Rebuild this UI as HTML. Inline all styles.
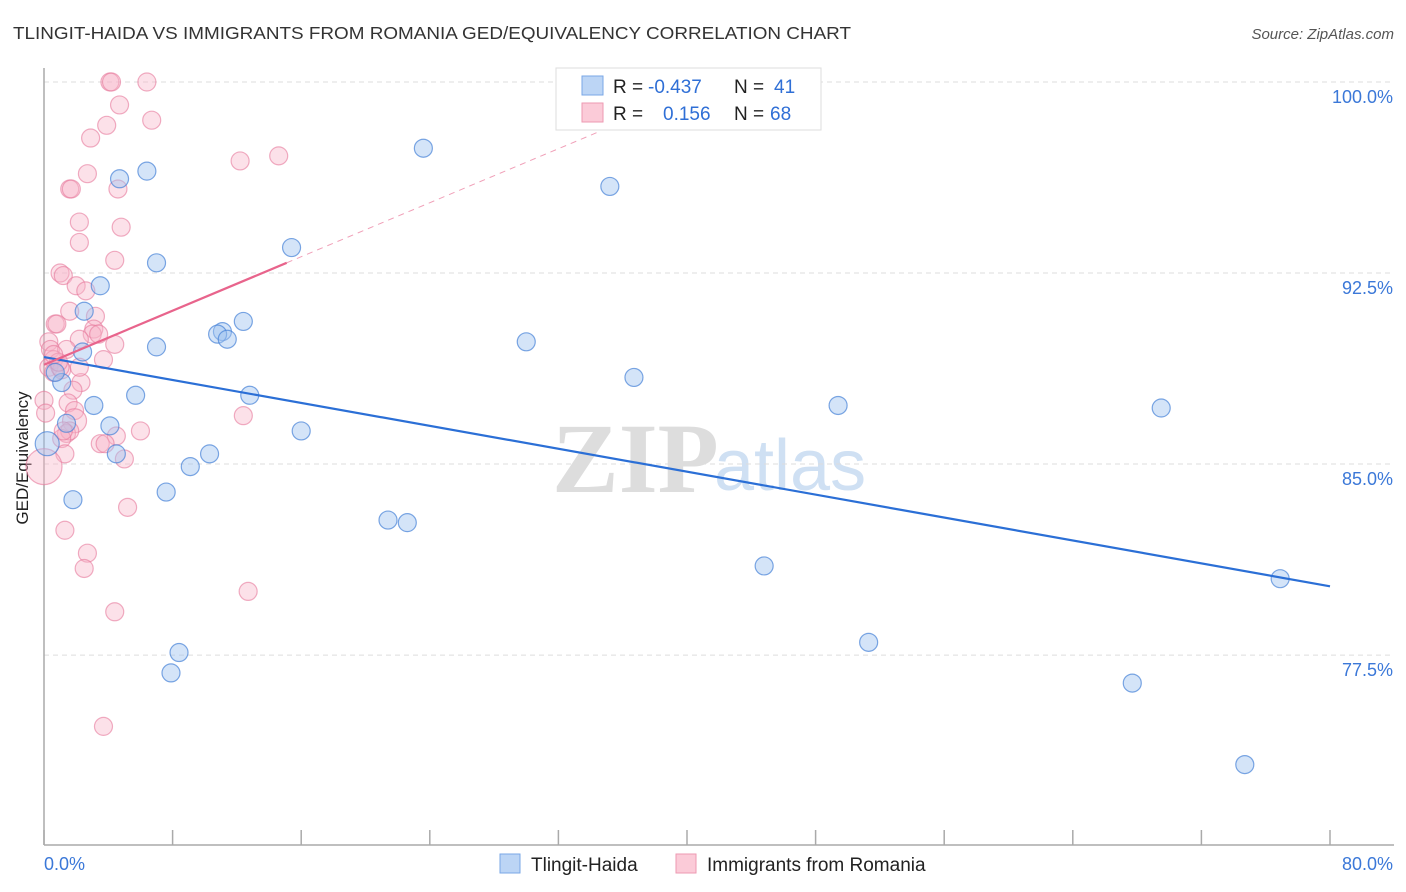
<!DOCTYPE html>
<html><head><meta charset="utf-8">
<style>
html,body{margin:0;padding:0;background:#fff;width:1406px;height:892px;overflow:hidden;font-family:"Liberation Sans",sans-serif}
svg{position:absolute;left:0;top:0}
</style></head>
<body>
<svg id="chart" width="1406" height="892">
<text x="13" y="39" font-size="17.5" fill="#333" textLength="838" lengthAdjust="spacingAndGlyphs">TLINGIT-HAIDA VS IMMIGRANTS FROM ROMANIA GED/EQUIVALENCY CORRELATION CHART</text>
<text x="1394" y="39" font-size="15" fill="#555" font-style="italic" text-anchor="end">Source: ZipAtlas.com</text>
<text x="28" y="458" font-size="17" fill="#222" text-anchor="middle" transform="rotate(-90 28 458)">GED/Equivalency</text>
<g><text x="552" y="492" font-size="100" fill="#ddd" font-family="Liberation Serif,serif" font-weight="bold">ZIP</text><text x="714" y="490" font-size="72" fill="#cfe0f3">atlas</text></g>
<g id="grid"></g><g id="axes"></g><g id="pts"></g><g id="lines"></g>
<g>
<rect x="556" y="68" width="265" height="62" fill="#fff" stroke="#ddd"/>
<rect x="582" y="76" width="21" height="19" fill="#bcd5f5" stroke="#7aa7e6"/>
<rect x="582" y="103" width="21" height="19" fill="#fbcbd8" stroke="#ee9ab2"/>
<text x="613" y="93" font-size="19" fill="#222">R = </text><text x="648" y="93" font-size="19" fill="#2f6fd6">-0.437</text>
<text x="734" y="93" font-size="19" fill="#222">N = </text><text x="774" y="93" font-size="19" fill="#2f6fd6">41</text>
<text x="613" y="120" font-size="19" fill="#222">R = </text><text x="663" y="120" font-size="19" fill="#2f6fd6">0.156</text>
<text x="734" y="120" font-size="19" fill="#222">N = </text><text x="770" y="120" font-size="19" fill="#2f6fd6">68</text>
</g>
<g>
<rect x="500" y="854" width="20" height="19" fill="#bcd5f5" stroke="#7aa7e6"/>
<text x="531" y="871" font-size="19" fill="#222">Tlingit-Haida</text>
<rect x="676" y="854" width="20" height="19" fill="#fbcbd8" stroke="#ee9ab2"/>
<text x="707" y="871" font-size="19" fill="#222">Immigrants from Romania</text>
</g>
</svg>
<script>
const yTicks=[100,92.5,85,77.5];
const yTickLabels=["100.0%","92.5%","85.0%","77.5%"];
const xTickLabels=["0.0%","80.0%"];
const blueX=[4.7,6.4,23.6,35.2,7.0,15.4,3.5,2.5,12.4,11.1,10.8,11.4,7.0,2.4,30.0,36.7,1.1,0.7,5.7,12.8,3.1,49.4,69.5,16.0,4.1,1.4,4.5,10.3,9.1,0.2,1.8,7.6,21.4,22.6,44.8,76.9,51.3,8.4,7.9,67.7,74.7];
const blueY=[96.2,96.5,97.4,95.9,92.9,93.5,92.0,91.0,90.6,90.2,90.1,89.9,89.6,89.4,89.8,88.4,88.2,88.6,87.7,87.7,87.3,87.3,87.2,86.3,86.5,86.6,85.4,85.4,84.9,85.8,83.6,83.9,82.8,82.7,81.0,80.5,78.0,77.6,76.8,76.4,73.2];
const pinkX=[4.1,4.2,6.4,4.7,2.9,3.9,6.7,12.2,14.6,2.7,1.6,1.7,4.6,4.8,2.2,2.2,4.4,1.0,1.2,2.0,2.6,3.2,1.6,0.7,0.8,3.1,3.0,2.2,4.4,0.3,0.4,1.4,3.7,0.6,0.3,0.6,1.1,2.3,1.8,0,1.5,1.9,0.1,1.9,1.4,1.6,6.0,4.5,1.1,3.5,1.3,5.0,0,12.4,5.2,1.3,2.7,2.5,4.4,12.7,3.7,1.0,2.2,3.4,1.2,3.8,0.9,0.6];
const pinkY=[100,100,100,99.1,97.8,98.3,98.5,96.9,97.1,96.4,95.8,95.8,95.8,94.3,94.5,93.7,93.0,92.5,92.4,92.0,91.8,90.8,91.0,90.5,90.5,90.3,90.1,89.9,89.7,89.8,89.5,89.5,89.1,89.1,88.8,88.6,88.7,88.2,87.9,87.5,87.4,87.1,87.0,86.7,86.2,86.3,86.3,86.1,86.0,85.8,85.4,85.2,84.9,86.9,83.3,82.4,81.5,80.9,79.2,80.0,74.7,88.8,88.8,90.1,86.3,85.8,89.0,89.3];
const bigPink=[52,43];
const trendX=[0,80];
const blueTrend=[89.2,80.2];
const pinkTrendStart=[0,88.9];const pinkSlope=0.265;const pinkSolidEnd=15.1;const pinkDashEnd=34.6;
const X=v=>44+v/80*1286, Y=v=>82+(100-v)*25.47;
const NS="http://www.w3.org/2000/svg";
function mk(t,a,p){const e=document.createElementNS(NS,t);for(const k in a)e.setAttribute(k,a[k]);p.appendChild(e);return e;}
const grid=document.getElementById('grid'),axes=document.getElementById('axes'),pts=document.getElementById('pts'),lines=document.getElementById('lines');
yTicks.forEach((t,i)=>{
 const g=mk('line',{x1:44,x2:1394,y1:Y(t),y2:Y(t),stroke:'#ddd','stroke-dasharray':'5,4'},grid);
 
 
 const l=mk('text',{x:1393,y:Y(t)+21,'font-size':18,fill:'#3b78d8','text-anchor':'end'},axes);l.textContent=yTickLabels[i];
 
 
});
mk('line',{x1:44,x2:44,y1:68,y2:845,stroke:'#aaa','stroke-width':1.5},axes);
mk('line',{x1:44,x2:1394,y1:845,y2:845,stroke:'#aaa','stroke-width':1.5},axes);
for(let i=0;i<=10;i++){const t=mk('line',{x1:X(i*8),x2:X(i*8),y1:830,y2:845,stroke:'#aaa','stroke-width':1.5},axes);
 
 }
const xl0=mk('text',{x:44,y:870,'font-size':18,fill:'#3b78d8'},axes);xl0.textContent=xTickLabels[0];


const xl1=mk('text',{x:1393,y:870,'font-size':18,fill:'#3b78d8','text-anchor':'end'},axes);xl1.textContent=xTickLabels[1];


pinkX.forEach((x,i)=>{const r=i===bigPink[0]?18:(i===bigPink[1]?12:9);
 const c=mk('circle',{cx:X(x),cy:Y(pinkY[i]),r:r,fill:'rgba(248,180,200,0.4)',stroke:'rgba(230,120,155,0.6)','stroke-width':1.2},pts);
 
 });
blueX.forEach((x,i)=>{const c=mk('circle',{cx:X(x),cy:Y(blueY[i]),r:i===29?12:9,fill:'rgba(160,195,240,0.45)',stroke:'rgba(70,130,215,0.7)','stroke-width':1.2},pts);
 
 });
const bl=mk('line',{x1:X(trendX[0]),y1:Y(blueTrend[0]),x2:X(trendX[1]),y2:Y(blueTrend[1]),stroke:'#2b6fd6','stroke-width':2.2},lines);


const py=x=>pinkTrendStart[1]+pinkSlope*x;
const pl=mk('line',{x1:X(0),y1:Y(py(0)),x2:X(pinkSolidEnd),y2:Y(py(pinkSolidEnd)),stroke:'#e8648c','stroke-width':2.2},lines);


const pd=mk('line',{x1:X(pinkSolidEnd),y1:Y(py(pinkSolidEnd)),x2:X(pinkDashEnd),y2:Y(py(pinkDashEnd)),stroke:'#f0a0b8','stroke-width':1,'stroke-dasharray':'6,5'},lines);


</script>
</body></html>
